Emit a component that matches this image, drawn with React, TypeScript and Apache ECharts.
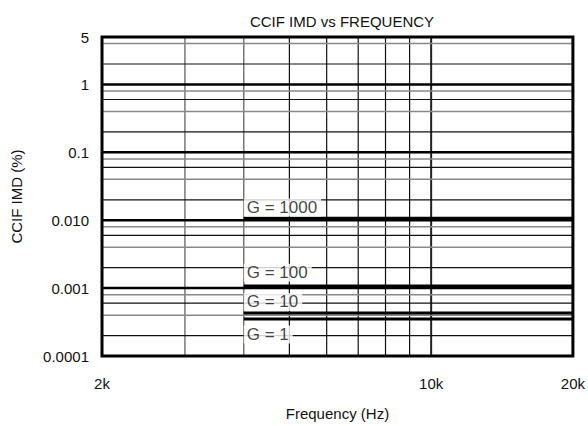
import React, { useEffect, useRef } from "react";
import * as echarts from "echarts";

const title = "CCIF IMD vs FREQUENCY";
const xName = "Frequency (Hz)";
const yName = "CCIF IMD (%)";

// data lines (flat IMD vs frequency)
const freqRange = [4000, 20000];
const gainLabels = ["G = 1000", "G = 100", "G = 10", "G = 1"];
const imdValues = [0.0107, 0.00107, 0.00043, 0.00035];
const labelValues = [0.0154, 0.00169, 0.000627, 0.000207];

// axis ticks
const xTickValues = [2000, 10000, 20000];
const xTickText = ["2k", "10k", "20k"];
const yTickValues = [0.0001, 0.001, 0.01, 0.1, 1, 5];
const yTickText = ["0.0001", "0.001", "0.010", "0.1", "1", "5"];

// axis extents
const xExtent = [2000, 20000];
const yExtent = [0.0001, 5];

// grid lines
const xGridLight = [3000, 4000];
const xGridDark = [5000, 6000, 7000, 8000, 9000];
const xGridMajor = [10000];
const yGridMajor = [0.001, 0.01, 0.1, 1];
const yGridLight = [0.0004, 0.0008, 0.004, 0.008, 0.04, 0.08, 0.4, 0.8, 4];
const yGridDark = [0.0002, 0.0006, 0.002, 0.006, 0.02, 0.06, 0.2, 0.6, 2];

export default function App() {
  const ref = useRef<HTMLDivElement>(null);
  useEffect(() => {
    if (!ref.current) return;
    const chart = echarts.init(ref.current, null, { renderer: "svg" });
    const font = "Liberation Sans, Arial, sans-serif";
    const gridSeries = (data: number[][], color: string, width: number) => ({
      type: "line",
      data,
      symbol: "none",
      silent: true,
      z: 1,
      lineStyle: { color, width },
    });
    const vLines = (vals: number[], color: string, width: number) =>
      vals.map((v) => gridSeries([[v, yExtent[0]], [v, yExtent[1]]], color, width));
    const hLines = (vals: number[], color: string, width: number) =>
      vals.map((v) => gridSeries([[xExtent[0], v], [xExtent[1], v]], color, width));

    const option: any = {
      animation: false,
      backgroundColor: "#fff",
      title: {
        text: title,
        left: 337,
        textAlign: "center",
        top: 9,
        textStyle: { fontFamily: font, fontSize: 15, fontWeight: "normal", color: "#111" },
      },
      grid: {
        left: 102,
        right: 15,
        top: 37,
        bottom: 70,
        show: true,
        borderColor: "#000",
        borderWidth: 3,
        backgroundColor: "transparent",
        z: 10,
      },
      xAxis: {
        type: "log",
        logBase: 10,
        min: xExtent[0],
        max: xExtent[1],
        name: xName,
        nameLocation: "middle",
        nameGap: 50,
        nameTextStyle: { fontFamily: font, fontSize: 15, color: "#111" },
        axisLine: { show: false },
        axisTick: { show: false },
        splitLine: { show: false },
        axisLabel: {
          customValues: xTickValues,
          margin: 20,
          fontFamily: font,
          fontSize: 15,
          color: "#111",
          formatter: (v: number) => {
            const i = xTickValues.findIndex((t) => Math.abs(t - v) / t < 1e-6);
            return i >= 0 ? xTickText[i] : "";
          },
        },
      },
      yAxis: {
        type: "log",
        logBase: 10,
        min: yExtent[0],
        max: yExtent[1],
        name: yName,
        nameLocation: "middle",
        nameGap: 78,
        nameTextStyle: { fontFamily: font, fontSize: 15, color: "#111" },
        axisLine: { show: false },
        axisTick: { show: false },
        splitLine: { show: false },
        axisLabel: {
          customValues: yTickValues,
          margin: 13,
          fontFamily: font,
          fontSize: 15,
          color: "#111",
          formatter: (v: number) => {
            const i = yTickValues.findIndex((t) => Math.abs(t - v) / t < 1e-6);
            return i >= 0 ? yTickText[i] : "";
          },
        },
      },
      series: [
        ...vLines(xGridLight, "#777", 1.5),
        ...vLines(xGridDark, "#111", 1.2),
        ...vLines(xGridMajor, "#222", 2),
        ...hLines(yGridLight, "#888", 1.5),
        ...hLines(yGridDark, "#111", 1.2),
        ...hLines(yGridMajor, "#000", 2.5),
        ...imdValues.map((v, i) => ({
          type: "line",
          name: gainLabels[i],
          data: freqRange.map((f) => [f, v]),
          symbol: "none",
          z: 3,
          lineStyle: { color: "#000", width: 3 },
        })),
        {
          type: "scatter",
          name: "labels",
          z: 5,
          symbolSize: 0,
          silent: true,
          data: labelValues.map((v, i) => [freqRange[0], v, gainLabels[i]]),
          label: {
            show: true,
            position: "right",
            distance: 0,
            formatter: (p: any) => p.value[2],
            fontFamily: font,
            fontSize: 17,
            color: "#111",
            backgroundColor: "#fff",
            padding: [1, 4, 0, 3],
          },
        },
      ],
    };
    chart.setOption(option);
    return () => chart.dispose();
  }, []);
  return (
    <div
      ref={ref}
      style={{ position: "fixed", left: 0, top: 0, width: 588, height: 426 }}
    />
  );
}
